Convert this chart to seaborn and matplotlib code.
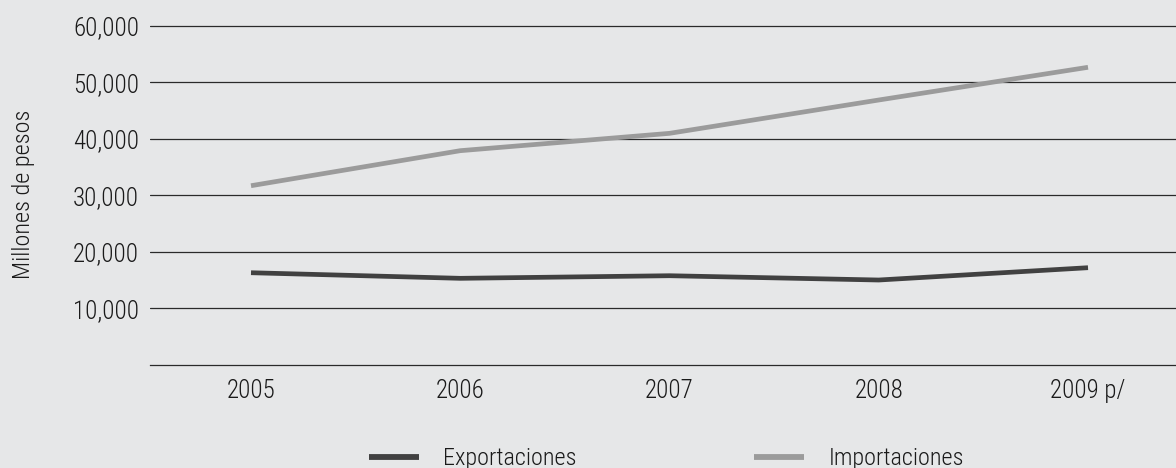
import matplotlib
matplotlib.use("Agg")
import matplotlib.pyplot as plt
import pandas as pd
import seaborn as sns

# Datos (millones de pesos)
years = ["2005", "2006", "2007", "2008", "2009 p/"]
exportaciones = [16280, 15290, 15750, 14990, 17170]
importaciones = [31680, 37880, 40950, 46850, 52640]
y_ticks = [10000, 20000, 30000, 40000, 50000, 60000]
y_label = "Millones de pesos"

bg = "#e6e7e8"
colors = {"Exportaciones": "#414141", "Importaciones": "#9b9b9b"}

sns.set_theme(style="white", rc={
    "axes.facecolor": bg,
    "figure.facecolor": bg,
})
plt.rcParams["font.family"] = ["Roboto Condensed", "Fira Sans Condensed", "Barlow Condensed", "DejaVu Sans"]
plt.rcParams["font.weight"] = "light"
plt.rcParams["axes.labelweight"] = "light"

df = pd.DataFrame({
    "pos": list(range(len(years))) * 2,
    "valor": exportaciones + importaciones,
    "serie": ["Exportaciones"] * len(years) + ["Importaciones"] * len(years),
})

fig = plt.figure(figsize=(11.76, 4.68), dpi=100)
ax = fig.add_axes([150 / 1176, 0.2207, 1 - 150 / 1176, 0.9487 - 0.2207])

sns.lineplot(data=df, x="pos", y="valor", hue="serie", palette=colors,
             linewidth=3.4, ax=ax, legend=False, estimator=None, sort=False)
for line in ax.lines:
    line.set_solid_capstyle("butt")
    line.set_solid_joinstyle("miter")

ax.set_xlim(-0.4827, 4.4205)
ax.set_ylim(0, 60300)

ax.set_yticks(y_ticks)
ax.set_yticklabels([f"{v:,}" for v in y_ticks])
ax.yaxis.grid(True, color="#2a2a2a", linewidth=0.9)
ax.xaxis.grid(False)
ax.set_axisbelow(True)

ax.set_xticks(range(len(years)))
ax.set_xticklabels(years)

for side in ("top", "right", "left"):
    ax.spines[side].set_visible(False)
ax.spines["bottom"].set_color("#2a2a2a")
ax.spines["bottom"].set_linewidth(0.9)

ax.tick_params(axis="both", length=0, labelsize=18, colors="#1a1a1a")
ax.tick_params(axis="y", pad=8)
ax.tick_params(axis="x", pad=10)

ax.set_xlabel("")
ax.set_ylabel(y_label, fontsize=17.5, color="#1a1a1a", fontweight="light")
ax.yaxis.set_label_coords(-115 / 1026, 0.5)

handles = [plt.Line2D([], [], color=colors[k], linewidth=4.2, solid_capstyle="butt") for k in colors]
fig.legend(handles, list(colors), loc="center", bbox_to_anchor=(0.5668, 0.020),
           ncol=2, frameon=False, fontsize=17.5, handlelength=2.05,
           handletextpad=1.0, columnspacing=7.3, labelcolor="#1a1a1a")

fig.savefig("out.png", dpi=100, facecolor=bg)
